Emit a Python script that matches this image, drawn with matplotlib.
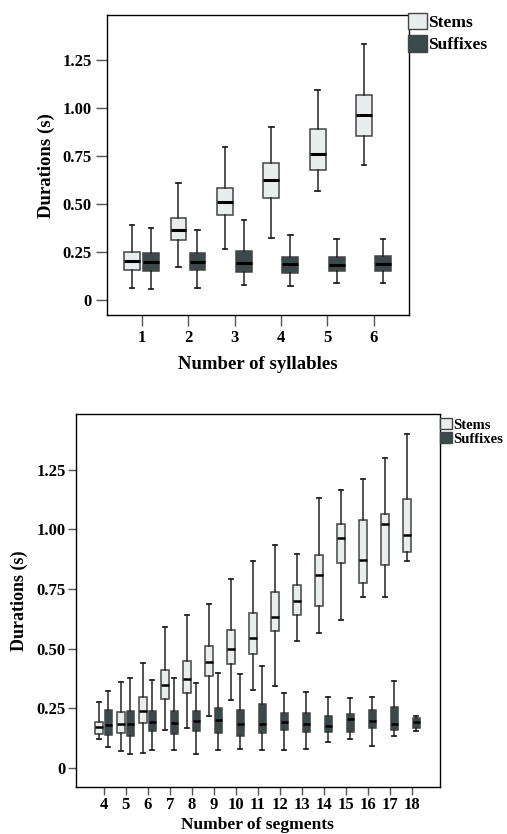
import matplotlib
matplotlib.use('Agg')
import matplotlib.pyplot as plt
from matplotlib.patches import Patch

plt.rcParams['font.family'] = ['Liberation Serif', 'DejaVu Serif']
plt.rcParams['font.weight'] = 'bold'

# top panel: number of syllables
syll = [1, 2, 3, 4, 5, 6]
syll_stem_lo = [0.062, 0.17, 0.266, 0.323, 0.566, 0.701]
syll_stem_q1 = [0.156, 0.312, 0.441, 0.533, 0.677, 0.854]
syll_stem_med = [0.203, 0.366, 0.51, 0.627, 0.762, 0.964]
syll_stem_q3 = [0.25, 0.429, 0.585, 0.715, 0.892, 1.069]
syll_stem_hi = [0.39, 0.609, 0.795, 0.901, 1.092, 1.331]
syll_suf_lo = [0.059, 0.062, 0.076, 0.075, 0.09, 0.09]
syll_suf_q1 = [0.153, 0.155, 0.144, 0.139, 0.151, 0.151]
syll_suf_med = [0.196, 0.196, 0.193, 0.186, 0.181, 0.189]
syll_suf_q3 = [0.243, 0.243, 0.257, 0.226, 0.224, 0.229]
syll_suf_hi = [0.377, 0.366, 0.417, 0.339, 0.316, 0.319]

# bottom panel: number of segments
segs = list(range(4, 19))
seg_stem_lo = [0.12, 0.07, 0.063, 0.16, 0.169, 0.22, 0.286, 0.329, 0.346, 0.532, 0.566, 0.62, 0.715, 0.715, 0.867]
seg_stem_q1 = [0.142, 0.145, 0.191, 0.288, 0.315, 0.387, 0.438, 0.479, 0.573, 0.642, 0.677, 0.858, 0.775, 0.851, 0.904]
seg_stem_med = [0.171, 0.183, 0.24, 0.35, 0.373, 0.444, 0.5, 0.544, 0.635, 0.698, 0.81, 0.963, 0.872, 1.024, 0.977]
seg_stem_q3 = [0.195, 0.233, 0.296, 0.413, 0.449, 0.51, 0.58, 0.65, 0.737, 0.765, 0.893, 1.021, 1.038, 1.066, 1.127]
seg_stem_hi = [0.277, 0.36, 0.442, 0.589, 0.641, 0.688, 0.792, 0.866, 0.934, 0.897, 1.132, 1.165, 1.21, 1.301, 1.399]
seg_suf_lo = [0.089, 0.059, 0.074, 0.074, 0.06, 0.077, 0.079, 0.077, 0.074, 0.078, 0.111, 0.12, 0.091, 0.134, 0.155]
seg_suf_q1 = [0.138, 0.135, 0.155, 0.142, 0.156, 0.149, 0.134, 0.146, 0.159, 0.15, 0.153, 0.153, 0.17, 0.16, 0.166]
seg_suf_med = [0.181, 0.185, 0.192, 0.189, 0.196, 0.202, 0.183, 0.184, 0.194, 0.185, 0.178, 0.205, 0.198, 0.183, 0.192]
seg_suf_q3 = [0.242, 0.24, 0.24, 0.24, 0.24, 0.251, 0.242, 0.268, 0.231, 0.231, 0.22, 0.226, 0.242, 0.258, 0.21]
seg_suf_hi = [0.323, 0.376, 0.369, 0.376, 0.357, 0.397, 0.394, 0.426, 0.314, 0.319, 0.298, 0.295, 0.298, 0.365, 0.219]

yticks = [0, 0.25, 0.5, 0.75, 1.0, 1.25]
ytick_labels = ['0', '0.25', '0.50', '0.75', '1.00', '1.25']

stem_fill = '#e9eded'
suf_fill = '#3a4a4a'


def make_stats(lo, q1, med, q3, hi):
    return [dict(whislo=a, q1=b, med=c, q3=d, whishi=e, fliers=[])
            for a, b, c, d, e in zip(lo, q1, med, q3, hi)]


def draw_boxes(ax, xs, stats, offset, width, fill, capw, medlw):
    pos = [x + offset for x in xs]
    ax.bxp(stats, positions=pos, widths=width, patch_artist=True, showfliers=False,
           capwidths=capw, manage_ticks=False,
           boxprops=dict(facecolor=fill, edgecolor='#444444', linewidth=1.1),
           medianprops=dict(color='black', linewidth=medlw),
           whiskerprops=dict(color='#222222', linewidth=1.1),
           capprops=dict(color='#222222', linewidth=1.3))


def style_axes(ax, xs, ticklen, fs, pad):
    ax.set_ylim(-0.078, 1.482)
    ax.set_yticks(yticks)
    ax.set_yticklabels(ytick_labels)
    ax.set_xticks(xs)
    ax.set_xticklabels([str(x) for x in xs])
    ax.tick_params(axis='both', length=ticklen, width=1, color='#555555', labelsize=fs, pad=pad)
    for sp in ax.spines.values():
        sp.set_linewidth(1.0)
        sp.set_color('black')
    for lab in ax.get_xticklabels() + ax.get_yticklabels():
        lab.set_fontweight('bold')


fig = plt.figure(figsize=(5.07, 8.34), dpi=100)

# top chart
ax1 = fig.add_axes([0.211, 0.6223, 0.595, 0.3594])
draw_boxes(ax1, syll, make_stats(syll_stem_lo, syll_stem_q1, syll_stem_med, syll_stem_q3, syll_stem_hi),
           -0.21, 0.34, stem_fill, 0.1, 2.2)
draw_boxes(ax1, syll, make_stats(syll_suf_lo, syll_suf_q1, syll_suf_med, syll_suf_q3, syll_suf_hi),
           0.2, 0.34, suf_fill, 0.1, 2.2)
ax1.set_xlim(0.25, 6.75)
style_axes(ax1, syll, 8, 12, 3)
ax1.set_xlabel('Number of syllables', fontsize=13.5, fontweight='bold', labelpad=7)
ax1.set_ylabel('Durations (s)', fontsize=13.5, fontweight='bold', labelpad=5)

handles = [Patch(facecolor=stem_fill, edgecolor='#444444', label='Stems'),
           Patch(facecolor=suf_fill, edgecolor='#444444', label='Suffixes')]
fig.legend(handles=handles, loc='upper left', bbox_to_anchor=(0.805, 0.985), frameon=False,
           handlelength=1.1, handleheight=1.1, handletextpad=0.05, labelspacing=0.25,
           borderpad=0, borderaxespad=0, prop=dict(family='Liberation Serif', weight='bold', size=12.5))

# bottom chart
ax2 = fig.add_axes([0.150, 0.0567, 0.7174, 0.4465])
draw_boxes(ax2, segs, make_stats(seg_stem_lo, seg_stem_q1, seg_stem_med, seg_stem_q3, seg_stem_hi),
           -0.22, 0.33, stem_fill, 0.16, 1.8)
draw_boxes(ax2, segs, make_stats(seg_suf_lo, seg_suf_q1, seg_suf_med, seg_suf_q3, seg_suf_hi),
           0.2, 0.33, suf_fill, 0.16, 1.8)
ax2.set_xlim(2.74, 19.27)
style_axes(ax2, segs, 6, 12, 1.5)
ax2.set_xlabel('Number of segments', fontsize=12.5, fontweight='bold', labelpad=2.5)
ax2.set_ylabel('Durations (s)', fontsize=13, fontweight='bold', labelpad=6)

fig.legend(handles=handles, loc='upper left', bbox_to_anchor=(0.868, 0.499), frameon=False,
           handlelength=0.85, handleheight=0.85, handletextpad=0.05, labelspacing=0.0,
           borderpad=0, borderaxespad=0, prop=dict(family='Liberation Serif', weight='bold', size=10.5))

fig.savefig('out.png', dpi=100)
